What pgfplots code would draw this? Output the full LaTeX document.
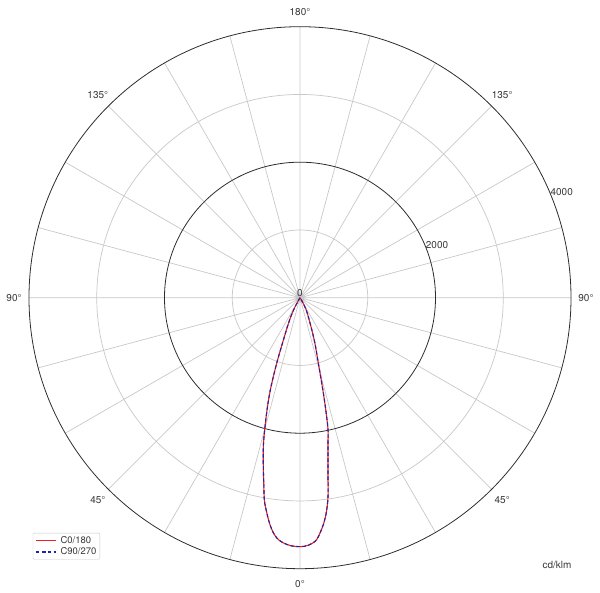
\documentclass[border=0pt]{standalone}
\usepackage{fontspec}
\setmainfont{TeX Gyre Heros}
\usepackage{pgfplots}
\usepackage{pgfplotstable}
\usepgfplotslibrary{polar}
\pgfplotsset{compat=1.18}

\definecolor{gridgray}{RGB}{200,200,200}
\definecolor{ringblack}{RGB}{45,45,45}
\definecolor{cred}{RGB}{240,30,30}
\definecolor{cblue}{RGB}{35,35,165}
\definecolor{labelgray}{RGB}{55,55,55}

% gamma (deg, 0 = straight down, negative = left half), intensity (cd/klm)
\pgfplotstableread{
g I
-32 0
-30 60
-28 180
-26 300
-24 430
-22 600
-20 930
-19 1150
-18 1390
-17 1600
-16 1800
-15 2010
-14 2230
-13 2410
-12 2600
-11 2800
-10 3030
-9 3180
-8 3320
-7 3440
-6 3530
-5 3590
-4 3625
-3 3648
-2 3665
-1 3672
0 3675
1 3670
2 3655
3 3625
4 3575
5 3470
6 3350
7 3190
8 2970
9 2640
10 2380
11 2165
12 1990
13 1680
14 1380
15 1130
16 950
18 720
20 520
22 380
25 260
28 170
30 90
32 0
}\czero

\pgfplotstableread{
g I
-32 0
-30 60
-28 180
-26 300
-24 430
-22 600
-20 930
-19 1150
-18 1390
-17 1600
-16 1800
-15 2010
-14 2230
-13 2410
-12 2600
-11 2800
-10 3030
-9 3180
-8 3320
-7 3440
-6 3530
-5 3590
-4 3625
-3 3648
-2 3665
-1 3672
0 3675
1 3670
2 3655
3 3625
4 3575
5 3470
6 3350
7 3190
8 2970
9 2640
10 2380
11 2165
12 1990
13 1680
14 1380
15 1130
16 950
18 720
20 520
22 380
25 260
28 170
30 90
32 0
}\cninety

\begin{document}
\begin{tikzpicture}
\begin{polaraxis}[
    scale only axis,
    width=542bp, height=542bp,
    xmin=0, xmax=360,
    ymin=0, ymax=4000,
    xtick={0,15,...,345},
    xticklabels={},
    ytick={1000,3000},
    yticklabels={},
    extra y ticks={2000},
    extra y tick labels={},
    extra y tick style={grid=major, major grid style={ringblack, line width=0.8bp}},
    grid=major,
    major grid style={gridgray, line width=0.7bp},
    major tick length=0pt,
    tick style={draw=none},
    axis line style={ringblack, line width=0.8bp},
    y axis line style={draw=none},
    clip=false,
    legend style={at={(0.007,0.066)}, anchor=north west,
        draw=gridgray, rounded corners=1bp,
        font=\fontsize{9.5}{9.5}\selectfont,
        inner xsep=2bp, inner ysep=1.5bp, row sep=0bp,
        nodes={inner sep=1.5bp}},
    legend cell align=left,
    legend image code/.code={%
        \draw[mark repeat=2,mark phase=2,#1]
            plot coordinates {(0bp,0bp) (10bp,0bp) (20bp,0bp)};},
]
\addplot[color=cred, line width=1.1bp, smooth, tension=0.6]
    table[x expr=\thisrow{g}+270, y=I] {\czero};
\addlegendentry{\hspace{3bp}\textcolor{labelgray}{C0/180}}
\addplot[color=cblue, line width=1.1bp, dash pattern=on 3.5bp off 2.5bp, smooth, tension=0.6]
    table[x expr=\thisrow{g}+270, y=I] {\cninety};
\addlegendentry{\hspace{3bp}\textcolor{labelgray}{C90/270}}

\coordinate (c) at (axis cs:0,0);
\begin{scope}[every node/.style={font=\fontsize{10}{12}\selectfont, text=labelgray, inner sep=0pt}]
\node at (axis cs:90,4221) {180°};
\node at (axis cs:45,4221) {135°};
\node at (axis cs:135,4221) {135°};
\node at (axis cs:0,4221) {90°};
\node at (axis cs:180,4221) {90°};
\node at (axis cs:225,4221) {45°};
\node at (axis cs:315,4221) {45°};
\node at (axis cs:270,4221) {0°};
\node[anchor=west, inner sep=1bp] at (axis cs:23,2000) {2000};
\node[anchor=west, inner sep=1bp] at (axis cs:23,4000) {4000};
\node[anchor=south, inner sep=1bp] at (axis cs:0,0) {0};
\end{scope}
\end{polaraxis}
\node[font=\fontsize{10}{12}\selectfont, text=labelgray] at ([shift={(257bp,-267.3bp)}]c) {cd/klm};
\path[use as bounding box] ([shift={(-300bp,-295.3bp)}]c) rectangle ([shift={(300bp,297.7bp)}]c);
\end{tikzpicture}
\end{document}
